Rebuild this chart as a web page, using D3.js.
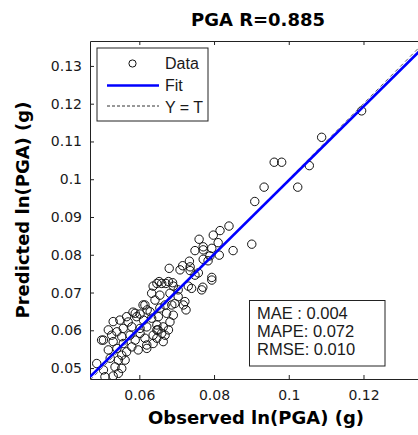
<!DOCTYPE html>
<html><head><meta charset="utf-8">
<script src="https://cdn.jsdelivr.net/npm/d3@7"></script>
<style>body{margin:0;background:#fff;} svg{display:block;}</style>
</head><body><svg id="chart" width="418" height="435"></svg>
<script>
// ---- data ----
const observed = [0.1195,0.1088,0.0961,0.0981,0.1055,0.0934,0.1024,0.0909,0.0901,0.0840,
0.0816,0.0798,0.0760,0.0811,0.0794,0.0771,0.0749,0.0851,0.0814,0.0789,
0.0771,0.0784,0.0734,0.0716,0.0736,0.0680,0.0709,0.0736,0.0758,0.0749,
0.0794,0.0653,0.0671,0.0689,0.0691,0.0637,0.0731,0.0770,0.0740,0.0660,
0.0633,0.0655,0.0682,0.0704,0.0695,0.0669,0.0615,0.0629,0.0589,0.0593,
0.0566,0.0548,0.0530,0.0611,0.0633,0.0651,0.0673,0.0691,0.0647,0.0664,
0.0647,0.0660,0.0678,0.0620,0.0602,0.0580,0.0557,0.0540,0.0526,0.0602,
0.0575,0.0553,0.0647,0.0664,0.0637,0.0620,0.0504,0.0530,0.0557,0.0580,
0.0597,0.0620,0.0540,0.0517,0.0553,0.0566,0.0522,0.0544,0.0535,0.0553,
0.0508,0.0530,0.0544,0.0504,0.0486,0.0499,0.0647,0.0767,0.0794,0.0722,
0.0718,0.0725,0.0687,0.0771,0.0678,
0.0583,0.0602,0.0621,0.0610,0.0642,0.0655,0.0650,0.0637,0.0669,0.0682,
0.0570,0.0589,0.0615,0.0517,0.0562,0.0704];
const predicted = [0.1181,0.1111,0.1045,0.1045,0.1036,0.0979,0.0979,0.0941,0.0828,0.0876,
0.0864,0.0852,0.0841,0.0832,0.0817,0.0813,0.0811,0.0811,0.0799,0.0797,
0.0788,0.0784,0.0783,0.0771,0.0768,0.0764,0.0760,0.0758,0.0752,0.0746,
0.0740,0.0729,0.0724,0.0726,0.0717,0.0717,0.0717,0.0714,0.0711,0.0724,
0.0698,0.0693,0.0698,0.0689,0.0671,0.0667,0.0667,0.0649,0.0645,0.0636,
0.0636,0.0627,0.0623,0.0627,0.0632,0.0636,0.0645,0.0640,0.0614,0.0609,
0.0601,0.0592,0.0601,0.0609,0.0605,0.0609,0.0605,0.0596,0.0587,0.0592,
0.0587,0.0583,0.0579,0.0570,0.0565,0.0561,0.0574,0.0570,0.0565,0.0556,
0.0548,0.0552,0.0552,0.0548,0.0534,0.0543,0.0526,0.0521,0.0503,0.0499,
0.0477,0.0479,0.0486,0.0495,0.0512,0.0574,0.0724,0.0707,0.0733,0.0676,
0.0667,0.0654,0.0667,0.0821,0.0729,
0.0648,0.0643,0.0654,0.0667,0.0680,0.0659,0.0601,0.0587,0.0587,0.0622,
0.0622,0.0574,0.0579,0.0601,0.0521,0.0707];
const xTicks = [0.06, 0.08, 0.10, 0.12];
const xTickLabels = ["0.06", "0.08", "0.1", "0.12"];
const yTicks = [0.05, 0.06, 0.07, 0.08, 0.09, 0.10, 0.11, 0.12, 0.13];
const yTickLabels = ["0.05", "0.06", "0.07", "0.08", "0.09", "0.1", "0.11", "0.12", "0.13"];
const xDomain = [0.0468, 0.137];
const yDomain = [0.0471, 0.1366];
const fitSlope = 0.978;
const fitIntercept = 0.0019;
const titleText = "PGA R=0.885";
const xLabelText = "Observed ln(PGA) (g)";
const yLabelText = "Predicted ln(PGA) (g)";
const legendLabels = ["Data", "Fit", "Y = T"];
const statsLines = ["MAE : 0.004", "MAPE: 0.072", "RMSE: 0.010"];

// ---- layout ----
const L = 90, R = 427, T = 41, B = 379;
const svg = d3.select("#chart");
const x = d3.scaleLinear().domain(xDomain).range([L, R]);
const y = d3.scaleLinear().domain(yDomain).range([B, T]);
const axisColor = "#222";
const tickFont = "'DejaVu Sans', sans-serif";

svg.append("defs").append("clipPath").attr("id", "plotclip")
  .append("rect").attr("x", L).attr("y", T).attr("width", R - L).attr("height", B - T);

function styleAxis(g) {
  g.select(".domain").attr("stroke", axisColor).attr("stroke-width", 1);
  g.selectAll(".tick line").attr("stroke", axisColor).attr("stroke-width", 1);
  g.selectAll(".tick text").attr("fill", "#1a1a1a")
    .style("font-family", tickFont).style("font-size", "14px");
}

// bottom axis
svg.append("g").attr("transform", `translate(0,${B})`)
  .call(d3.axisBottom(x).tickValues(xTicks).tickFormat((d, i) => xTickLabels[i])
    .tickSizeInner(-4).tickSizeOuter(0).tickPadding(11))
  .call(styleAxis)
  .call(g => g.selectAll(".tick text").attr("dy", "0.71em"));
// top axis
svg.append("g").attr("transform", `translate(0,${T})`)
  .call(d3.axisTop(x).tickValues(xTicks).tickFormat("").tickSizeInner(-4).tickSizeOuter(0))
  .call(styleAxis);
// left axis
svg.append("g").attr("transform", `translate(${L},0)`)
  .call(d3.axisLeft(y).tickValues(yTicks).tickFormat((d, i) => yTickLabels[i])
    .tickSizeInner(-4).tickSizeOuter(0).tickPadding(8))
  .call(styleAxis);
// right axis
svg.append("g").attr("transform", `translate(${R},0)`)
  .call(d3.axisRight(y).tickValues(yTicks).tickFormat("").tickSizeInner(-4).tickSizeOuter(0))
  .call(styleAxis);

// ---- plot content ----
const plot = svg.append("g").attr("clip-path", "url(#plotclip)");
const line = d3.line().x(d => x(d[0])).y(d => y(d[1]));

// data points
const pts = observed.map((o, i) => [o, predicted[i]]);
plot.append("g").selectAll("circle").data(pts).join("circle")
  .attr("cx", d => x(d[0])).attr("cy", d => y(d[1])).attr("r", 4.2)
  .attr("fill", "none").attr("stroke", "#111").attr("stroke-width", 1);

// Y = T line
plot.append("path").datum([[xDomain[0], xDomain[0]], [xDomain[1], xDomain[1]]])
  .attr("d", line).attr("fill", "none").attr("stroke", "#666")
  .attr("stroke-width", 1).attr("stroke-dasharray", "4,3");

// fit line
plot.append("path").datum(xDomain.map(v => [v, fitSlope * v + fitIntercept]))
  .attr("d", line).attr("fill", "none").attr("stroke", "#0000ff").attr("stroke-width", 2.6);

// ---- legend ----
const lg = svg.append("g");
lg.append("rect").attr("x", 97).attr("y", 48).attr("width", 111).attr("height", 73)
  .attr("fill", "#fff").attr("stroke", axisColor).attr("stroke-width", 1);
lg.append("circle").attr("cx", 132.5).attr("cy", 63.5).attr("r", 3.6)
  .attr("fill", "none").attr("stroke", "#111").attr("stroke-width", 1);
lg.append("line").attr("x1", 107).attr("x2", 159).attr("y1", 85.5).attr("y2", 85.5)
  .attr("stroke", "#0000ff").attr("stroke-width", 2.6);
lg.append("line").attr("x1", 107).attr("x2", 159).attr("y1", 106).attr("y2", 106)
  .attr("stroke", "#333").attr("stroke-width", 1).attr("stroke-dasharray", "3,2");
lg.selectAll("text").data(legendLabels).join("text")
  .attr("x", 165).attr("y", (d, i) => 69 + i * 21.8)
  .style("font-family", "'Liberation Sans', Arial, sans-serif").style("font-size", "16px")
  .attr("fill", "#1a1a1a").text(d => d);

// ---- stats box ----
const sb = svg.append("g");
sb.append("rect").attr("x", 249.5).attr("y", 300.5).attr("width", 135.5).attr("height", 65.5)
  .attr("fill", "#fff").attr("stroke", axisColor).attr("stroke-width", 1);
sb.selectAll("text").data(statsLines).join("text")
  .attr("x", 257).attr("y", (d, i) => 318.5 + i * 18.4)
  .style("font-family", "'Liberation Sans', Arial, sans-serif").style("font-size", "16.5px")
  .attr("fill", "#1a1a1a").text(d => d);

// ---- titles ----
svg.append("text").attr("x", 258).attr("y", 25.5).attr("text-anchor", "middle")
  .style("font-family", tickFont).style("font-size", "18px").style("font-weight", "bold")
  .attr("fill", "#000").text(titleText);
svg.append("text").attr("x", 256).attr("y", 424).attr("text-anchor", "middle")
  .style("font-family", tickFont).style("font-size", "18px").style("font-weight", "bold")
  .attr("fill", "#000").text(xLabelText);
svg.append("text").attr("transform", "translate(29,210) rotate(-90)").attr("text-anchor", "middle")
  .style("font-family", tickFont).style("font-size", "18px").style("font-weight", "bold")
  .attr("fill", "#000").text(yLabelText);
</script>
</body></html>
